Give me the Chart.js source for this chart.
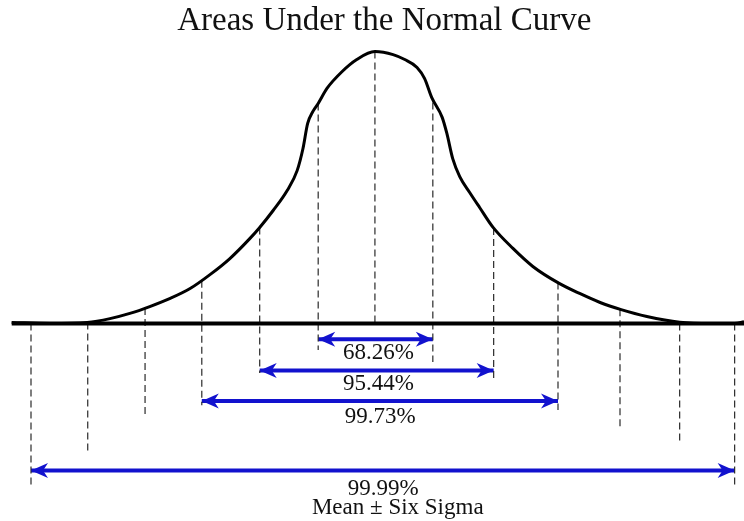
<!DOCTYPE html>
<html>
<head>
<meta charset="utf-8">
<script src="https://cdn.jsdelivr.net/npm/chart.js@4.4.1/dist/chart.umd.min.js"></script>
<style>
  html, body { margin: 0; padding: 0; background: #fff; }
  #wrap { width: 744px; height: 521px; position: relative; }
</style>
</head>
<body>
<div id="wrap"><canvas id="chart"></canvas></div>
<script>
// Curve: x in sigma units, y as a fraction of the peak height
const curveX = [-6.21, -5.56, -4.92, -4.53, -4.19, -3.85, -3.50, -3.16, -2.82, -2.48, -2.14, -1.97, -1.74, -1.50, -1.33, -1.23, -1.15, -1.06, -0.97, -0.82, -0.56, -0.31, 0,
                0.31, 0.51, 0.72, 0.85, 0.97, 1.15, 1.23, 1.33, 1.45, 1.62, 1.79, 2.02, 2.36, 2.70, 3.15, 3.50, 3.85, 4.21, 4.65, 5.21, 5.73, 6.15, 6.31];
const curveY = [0.004, 0, 0.004, 0.018, 0.037, 0.062, 0.092, 0.128, 0.179, 0.238, 0.311, 0.352, 0.414, 0.487, 0.560, 0.641, 0.733, 0.777, 0.806, 0.861, 0.923, 0.967, 0.996,
                0.985, 0.967, 0.938, 0.897, 0.828, 0.755, 0.696, 0.604, 0.538, 0.480, 0.425, 0.352, 0.275, 0.209, 0.147, 0.110, 0.077, 0.051, 0.026, 0.005, 0, 0, 0.007];

// Horizontal axis line
const baseX = [-6.21, 6.31];

// Dashed sigma marks: position, top (on the curve) and bottom
const markX      = [-5.88, -4.91, -3.93, -2.96, -1.97, -0.97, 0,     0.99,  2.03,  3.13,  4.19,  5.21,  6.15];
const markTop    = [0,     0.004, 0.057, 0.157, 0.352, 0.806, 0.996, 0.81,  0.35,  0.15,  0.052, 0,     0];
const markBottom = [-0.599, -0.471, -0.342, -0.299, -0.181, -0.097, 0, -0.141, -0.207, -0.317, -0.379, -0.438, -0.599];

// Blue double arrows and their percentages
const spanLabels = ['68.26%', '95.44%', '99.73%', '99.99%'];
const spanFrom   = [-0.97, -1.97, -2.96, -5.88];
const spanTo     = [0.99, 2.03, 3.13, 6.15];
const spanLevel  = [-0.058, -0.172, -0.284, -0.538];
const labelX     = [0.06, 0.06, 0.09, 0.14];
const labelLevel = [-0.108, -0.223, -0.342, -0.606];

const titleText = 'Areas Under the Normal Curve';
const titleX = 0.16;
const titleLevel = 1.107;

const footText = 'Mean \u00b1 Six Sigma';
const footX = 0.39;
const footLevel = -0.676;

const BLUE = 'rgb(18,18,206)';
const SERIF = '"Liberation Serif", "Times New Roman", serif';

const datasets = [];

datasets.push({
  data: curveX.map((x, i) => ({ x: x, y: curveY[i] })),
  borderColor: '#000', borderWidth: 3, pointRadius: 0,
  cubicInterpolationMode: 'monotone'
});

datasets.push({
  data: baseX.map(x => ({ x: x, y: 0 })),
  borderColor: '#000', borderWidth: 4, pointRadius: 0
});

markX.forEach((x, i) => {
  datasets.push({
    data: [{ x: x, y: markTop[i] }, { x: x, y: markBottom[i] }],
    borderColor: '#2a2a2a', borderWidth: 1.2, borderDash: [7, 4], pointRadius: 0
  });
});

spanFrom.forEach((x, i) => {
  datasets.push({
    data: [{ x: x, y: spanLevel[i] }, { x: spanTo[i], y: spanLevel[i] }],
    borderColor: BLUE, borderWidth: 4, pointRadius: 0, isArrow: true
  });
});

const arrowsAndText = {
  id: 'arrowsAndText',
  afterDatasetsDraw(chart) {
    const ctx = chart.ctx;
    const xs = chart.scales.x, ys = chart.scales.y;

    // arrow heads
    ctx.save();
    ctx.fillStyle = BLUE;
    chart.data.datasets.forEach((ds, i) => {
      if (!ds.isArrow) return;
      const pts = chart.getDatasetMeta(i).data;
      const a = pts[0], b = pts[pts.length - 1];
      const L = 17, W = 7.5, N = 5;
      ctx.beginPath();
      ctx.moveTo(a.x, a.y);
      ctx.lineTo(a.x + L, a.y - W);
      ctx.lineTo(a.x + L - N, a.y);
      ctx.lineTo(a.x + L, a.y + W);
      ctx.closePath();
      ctx.fill();
      ctx.beginPath();
      ctx.moveTo(b.x, b.y);
      ctx.lineTo(b.x - L, b.y - W);
      ctx.lineTo(b.x - L + N, b.y);
      ctx.lineTo(b.x - L, b.y + W);
      ctx.closePath();
      ctx.fill();
    });
    ctx.restore();

    ctx.save();
    ctx.fillStyle = '#111';
    ctx.textAlign = 'center';
    ctx.textBaseline = 'middle';

    // title
    ctx.font = '33px ' + SERIF;
    ctx.fillText(titleText, xs.getPixelForValue(titleX), ys.getPixelForValue(titleLevel));

    // percentages
    ctx.font = '23px ' + SERIF;
    spanLabels.forEach((t, i) => {
      ctx.fillText(t, xs.getPixelForValue(labelX[i]), ys.getPixelForValue(labelLevel[i]));
    });
    ctx.fillText(footText, xs.getPixelForValue(footX), ys.getPixelForValue(footLevel));
    ctx.restore();
  }
};

new Chart(document.getElementById('chart'), {
  type: 'line',
  data: { datasets: datasets },
  options: {
    responsive: true,
    maintainAspectRatio: false,
    animation: false,
    events: [],
    layout: { padding: 0 },
    plugins: {
      legend: { display: false },
      tooltip: { enabled: false },
      title: { display: false }
    },
    scales: {
      x: { type: 'linear', min: -6.41, max: 6.31, display: false },
      y: { type: 'linear', min: -0.7234, max: 1.185, display: false }
    }
  },
  plugins: [arrowsAndText]
});
</script>
</body>
</html>
